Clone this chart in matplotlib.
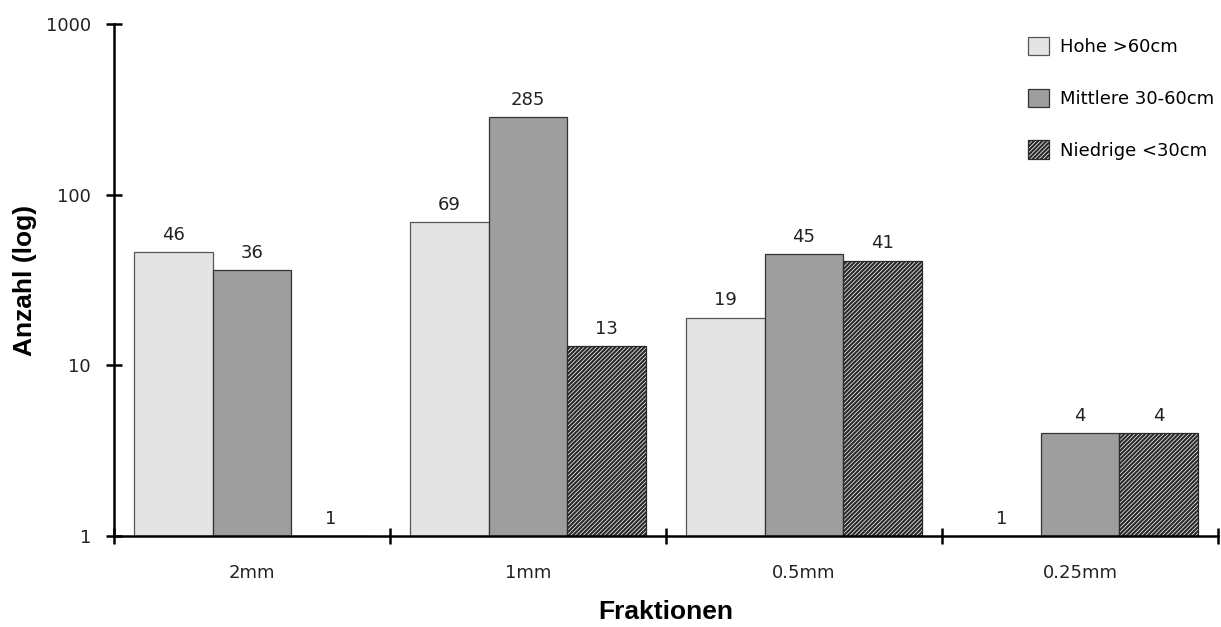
import numpy as np
import matplotlib.pyplot as plt
from matplotlib.ticker import FixedLocator, NullFormatter, NullLocator

fractions = ['2mm', '1mm', '0.5mm', '0.25mm']
series_names = ['Hohe >60cm', 'Mittlere 30-60cm', 'Niedrige <30cm']
hohe = [46, 69, 19, 1]
mittlere = [36, 285, 45, 4]
niedrige = [1, 13, 41, 4]
y_ticks = [1, 10, 100, 1000]

plt.rcParams['hatch.linewidth'] = 1.6
txt_font = 'DejaVu Sans'
lab_font = 'Liberation Sans'

fig = plt.figure(figsize=(12.21, 6.27), dpi=100)
ax = fig.add_axes([0.0934, 0.1451, 0.9041, 0.8166])

styles = [
    dict(facecolor='#e4e4e4', edgecolor='#555555', hatch=None),
    dict(facecolor='#9e9e9e', edgecolor='#333333', hatch=None),
    dict(facecolor='#ffffff', edgecolor='#2a2a2a', hatch='////////'),
]

w = 0.285
x = np.arange(len(fractions)) + 0.5
for i, (vals, st) in enumerate(zip([hohe, mittlere, niedrige], styles)):
    vals = np.array(vals, dtype=float)
    xs = x + (i - 1) * w
    ax.bar(xs, vals - 1, bottom=1, width=w, facecolor=st['facecolor'],
           edgecolor=st['edgecolor'], hatch=st['hatch'], linewidth=0.9,
           label=series_names[i])
    for xi, v in zip(xs, vals):
        ax.annotate(str(int(v)), (xi, v), xytext=(0, 6), textcoords='offset points',
                    ha='center', va='bottom', fontsize=13, family=txt_font, color='#222222')

ax.set_yscale('log')
ax.set_ylim(1, 1000)
ax.set_xlim(0, len(fractions))
ax.yaxis.set_major_locator(FixedLocator(y_ticks))
ax.set_yticklabels([str(t) for t in y_ticks], family=txt_font, fontsize=13, color='#222222')
ax.yaxis.set_minor_locator(NullLocator())

ax.xaxis.set_major_locator(FixedLocator(np.arange(len(fractions) + 1)))
ax.xaxis.set_major_formatter(NullFormatter())
ax.xaxis.set_minor_locator(FixedLocator(x))
ax.set_xticklabels(fractions, minor=True, family=txt_font, fontsize=13, color='#222222')
ax.tick_params(axis='x', which='minor', length=0, pad=20)
ax.tick_params(axis='both', which='major', direction='inout', length=12, width=1.8)
ax.tick_params(axis='y', pad=10.5)

for s in ['top', 'right']:
    ax.spines[s].set_visible(False)
for s in ['left', 'bottom']:
    ax.spines[s].set_linewidth(1.8)

ax.set_ylabel('Anzahl (log)', fontsize=19, fontweight='bold', family=lab_font)
ax.yaxis.label.set_va('center')
ax.yaxis.set_label_coords(-0.0806, 0.5)
ax.set_xlabel('Fraktionen', fontsize=19, fontweight='bold', family=lab_font)
ax.xaxis.label.set_va('center')
ax.xaxis.set_label_coords(0.5, -0.148)

ax.legend(loc='upper left', bbox_to_anchor=(1019 / 1221, 1 - 28 / 627),
          bbox_transform=fig.transFigure, frameon=False, borderpad=0,
          handlelength=1.17, handleheight=1.17, labelspacing=1.8,
          handletextpad=0.6, prop={'family': txt_font, 'size': 13})

fig.savefig('out.png', dpi=100, facecolor='white')
